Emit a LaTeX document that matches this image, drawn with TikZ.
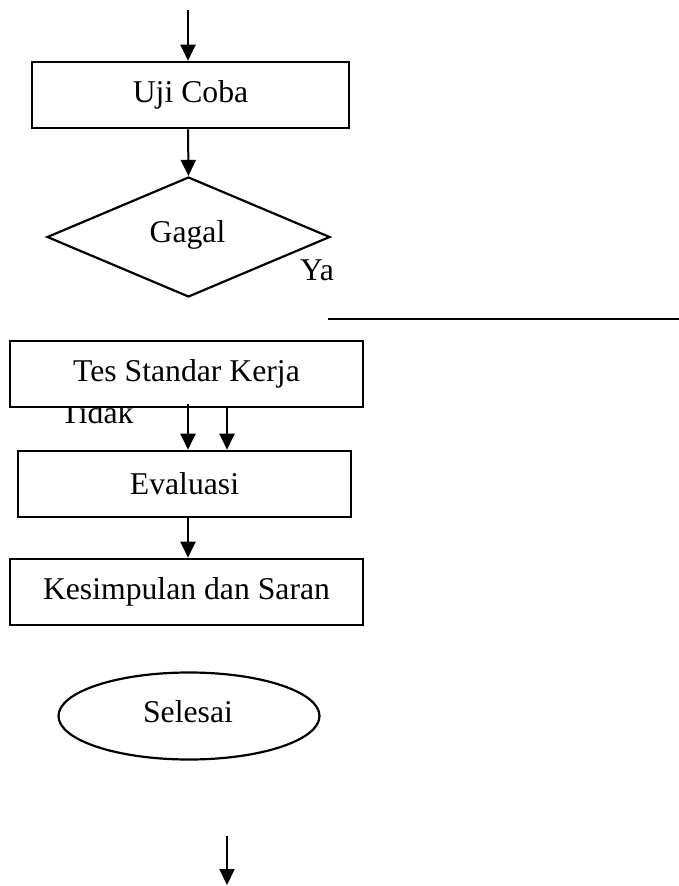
\documentclass[tikz,border=0pt]{standalone}
\usepackage{fontspec}
\setmainfont{Liberation Serif}
\usetikzlibrary{shapes.geometric,arrows.meta}
\begin{document}
\begin{tikzpicture}[x=1pt,y=-1pt,
  lbl/.style={font=\fontsize{31.7}{38}\selectfont, inner sep=0pt},
  box/.style={lbl, draw, line width=2.6pt, fill=white, minimum height=66pt},
  decision/.style={lbl, draw, diamond, line width=2.2pt, aspect=2.36, minimum width=283pt, minimum height=120pt},
  term/.style={lbl, draw, ellipse, line width=2.2pt, minimum width=261pt, minimum height=87pt},
  arr/.style={line width=2pt, -{Triangle[length=16pt,width=15pt]}},
  thin/.style={line width=1.3pt}]
\useasboundingbox (0,0) rectangle (679,886);
% labels behind boxes
\node[lbl, anchor=base] (tidak) at (97,423) {Tidak};
\node[lbl, anchor=base] (ya) at (317,280) {Ya};
% nodes
\node[box, minimum width=317pt] (uji) at (190.5,95) {Uji Coba};
\node[decision] (gagal) at (188.5,237) {};
\node[lbl, anchor=base] (gagaltxt) at (187.5,242) {Gagal};
\node[box, minimum width=353pt] (tes) at (186.5,374) {Tes Standar Kerja};
\node[box, minimum width=333pt] (eval) at (184.5,484) {Evaluasi};
\node[box, minimum width=353pt] (kes) at (186.5,592) {Kesimpulan dan Saran};
\node[term] (sel) at (189,716) {};
\node[lbl, anchor=base] (seltxt) at (188,722) {Selesai};
% free ends
\coordinate (top) at (188,10);
\coordinate (hA) at (328,319);
\coordinate (hB) at (679,319);
\coordinate (botA) at (227,836);
\coordinate (botB) at (227,885);
% connectors
\draw[arr] (top) -- (top |- uji.north);
\draw[arr] ([xshift=-2.5pt]uji.south) -- (gagal.north);
\draw[thin] (hA) -- (hB);
\draw[arr] ([xshift=1.5pt,yshift=4pt]tes.south) -- ([xshift=3.5pt]eval.north);
\draw[arr] ([xshift=40.5pt]tes.south) -- ([xshift=42.5pt]eval.north);
\draw[arr] ([xshift=3.5pt]eval.south) -- ([xshift=1.5pt]kes.north);
\draw[arr] (botA) -- (botB);
\end{tikzpicture}
\end{document}
